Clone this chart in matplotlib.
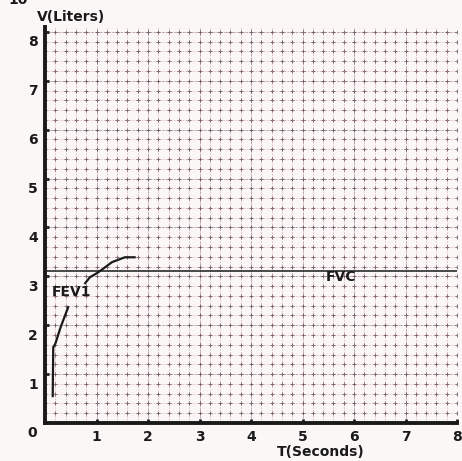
import numpy as np
import matplotlib
matplotlib.use('Agg')
import matplotlib.pyplot as plt
import matplotlib.transforms as mtransforms

# --- DATA ---
t_early = [0.15, 0.16, 0.20, 0.30, 0.45]        # seconds
v_early = [0.55, 1.55, 1.62, 1.95, 2.37]        # liters
t_late = [0.78, 0.87, 1.03, 1.30, 1.55, 1.74]
v_late = [2.86, 2.98, 3.08, 3.29, 3.39, 3.39]
fvc_level = 3.1
x_ticks = [1, 2, 3, 4, 5, 6, 7, 8]
y_ticks = [1, 2, 3, 4, 5, 6, 7, 8]

# --- STYLE ---
INK = '#1a1a1a'
PINK = '#e2b9be'
DARK = '#7d6a76'
BG = '#fbf7f7'

fig = plt.figure(figsize=(4.62, 4.61), dpi=100, facecolor=BG)
ax = fig.add_axes([0.0974, 0.0824, 0.892, 0.859])
ax.set_facecolor(BG)
ax.set_xlim(0, 8)
ax.set_ylim(0, 8.1)

# graph paper grid
minor = np.arange(0, 8.01, 0.2)
for v in minor:
    ax.axvline(v, color=PINK, lw=0.6, ls=(0, (2, 1.5)), zorder=1)
    ax.axhline(v, color=PINK, lw=0.6, ls=(0, (2, 1.5)), zorder=1)
for v in range(0, 9):
    ax.axvline(v, color=DARK, lw=0.6, ls=(0, (3, 2)), alpha=0.5, zorder=1)
    ax.axhline(v, color=DARK, lw=0.6, ls=(0, (3, 2)), alpha=0.5, zorder=1)
gx, gy = np.meshgrid(minor, minor)
ax.scatter(gx.ravel(), gy.ravel(), marker='+', s=6, lw=0.7, color='#5a4a58', alpha=0.75, zorder=2)

# FVC line and curve
ax.axhline(fvc_level, color=INK, lw=1.1, zorder=3)
ax.plot(t_early, v_early, color=INK, lw=1.6, zorder=4)
ax.plot(t_late, v_late, color=INK, lw=1.6, zorder=4)

ax.text(0.52, 2.67, 'FEV1', fontsize=10, weight='bold', color=INK, ha='center', va='center', zorder=5)
ax.text(5.74, 2.98, 'FVC', fontsize=10, weight='bold', color=INK, ha='center', va='center', zorder=5)

# axes
for s in ['top', 'right']:
    ax.spines[s].set_visible(False)
ax.spines['left'].set_linewidth(2.8)
ax.spines['bottom'].set_linewidth(2.8)
ax.spines['left'].set_color(INK)
ax.spines['bottom'].set_color(INK)

ax.set_xticks(x_ticks)
ax.set_xticklabels([str(v) for v in x_ticks], fontsize=10, weight='bold', color=INK)
ax.set_yticks(y_ticks)
ax.set_yticklabels([str(v) for v in y_ticks], fontsize=10, weight='bold', color=INK)
ax.tick_params(axis='both', length=3, width=2, color=INK, direction='in', pad=5)

offset = mtransforms.ScaledTranslation(0, -9 / 100, fig.dpi_scale_trans)
for lab in ax.get_yticklabels():
    lab.set_transform(lab.get_transform() + offset)

fig.text(32 / 462, 1 - 433 / 461, '0', fontsize=10, weight='bold', color=INK, ha='center', va='center')
fig.text(37 / 462, 1 - 17 / 461, 'V(Liters)', fontsize=10, weight='bold', color=INK, ha='left', va='center')
fig.text(321 / 462, 1 - 452 / 461, 'T(Seconds)', fontsize=10, weight='bold', color=INK, ha='center', va='center')
fig.text(18 / 462, 1.0, '10', fontsize=10, weight='bold', color=INK, ha='center', va='center')

fig.savefig('out.png', dpi=100, facecolor=BG)
